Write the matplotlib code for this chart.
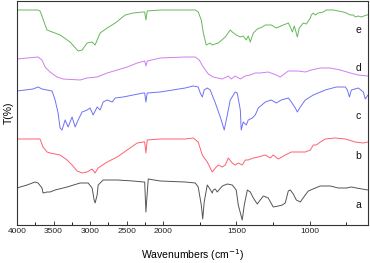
import numpy as np
import matplotlib
matplotlib.use("Agg")
import matplotlib.pyplot as plt

plt.rcParams['font.family'] = ['Liberation Sans', 'DejaVu Sans']

# --- data (wavenumber cm-1, offset transmittance in arbitrary units) ---
wn_e = [4000, 3712, 3685, 3658, 3616, 3589, 3411, 3274, 3164, 3110, 3041, 2973, 2932, 2904, 2863, 2767, 2657,
        2521, 2411, 2274, 2254, 2237, 2219, 2041, 1850, 1781, 1761, 1740, 1726, 1706, 1679, 1665, 1644, 1624,
        1576, 1542, 1528, 1501, 1473, 1453, 1432, 1419, 1405, 1384, 1357, 1323, 1302, 1261, 1227, 1179, 1145,
        1131, 1117, 1104, 1083, 1070, 1042, 1022, 994, 988, 974, 960, 940, 906, 885, 837, 803, 769, 748, 721,
        700, 687, 666, 645, 611, 600]
t_e = [215, 215, 214, 209, 200, 195, 190, 183, 174, 175, 182, 183, 180, 185, 192, 197, 202,
       210, 212, 213, 213, 205, 214, 215, 215, 215, 213, 205, 192, 180, 182, 180, 181, 182,
       188, 195, 193, 190, 188, 189, 185, 189, 183, 192, 196, 198, 200, 200, 197, 200, 202,
       198, 193, 199, 188, 197, 202, 201, 207, 210, 212, 210, 212, 213, 215, 215, 214, 213, 212, 210,
       210, 208, 209, 208, 210, 210]

wn_d = [4000, 3712, 3658, 3616, 3548, 3452, 3370, 3137, 3041, 2904, 2767, 2630, 2493, 2356, 2254, 2237, 2219,
        2041, 1850, 1781, 1754, 1726, 1692, 1658, 1596, 1569, 1555, 1535, 1508, 1473, 1439, 1405, 1371, 1337,
        1282, 1227, 1200, 1145, 1077, 1029, 988, 926, 858, 789, 721, 666, 600]
t_d = [166, 168, 165, 158, 153, 148, 146, 145, 147, 148, 152, 155, 158, 162, 164, 159, 164,
       167, 168, 168, 165, 158, 151, 148, 146, 148, 149, 146, 149, 146, 149, 150, 152, 152,
       153, 150, 148, 154, 154, 153, 155, 157, 157, 155, 152, 150, 149]

wn_c = [4000, 3781, 3712, 3658, 3521, 3479, 3438, 3411, 3384, 3342, 3301, 3247, 3205, 3164, 3110, 3041, 3000,
        2959, 2904, 2863, 2822, 2767, 2699, 2657, 2548, 2411, 2274, 2254, 2237, 2219, 2041, 1850, 1795, 1761,
        1747, 1733, 1720, 1699, 1679, 1644, 1610, 1583, 1562, 1542, 1508, 1494, 1473, 1467, 1453, 1432, 1419,
        1391, 1371, 1350, 1302, 1261, 1227, 1193, 1145, 1124, 1097, 1083, 1063, 1029, 974, 892, 817, 755,
        741, 727, 714, 666, 632, 618, 600]
t_c = [134, 136, 138, 136, 134, 125, 112, 97, 95, 105, 98, 108, 98, 105, 113, 115, 117,
       110, 118, 115, 123, 125, 123, 127, 128, 130, 132, 132, 123, 132, 133, 137, 139, 138,
       132, 128, 135, 137, 135, 122, 108, 95, 110, 125, 133, 132, 115, 95, 103, 100, 105,
       107, 110, 117, 123, 125, 122, 125, 127, 123, 117, 113, 118, 125, 130, 135, 138, 138,
       135, 128, 135, 137, 133, 126, 130]

wn_b = [4000, 3685, 3644, 3589, 3548, 3479, 3411, 3315, 3247, 3178, 3110, 3041, 2973, 2932, 2890, 2767, 2630,
        2493, 2356, 2274, 2254, 2237, 2219, 2041, 1850, 1795, 1761, 1733, 1699, 1665, 1644, 1624, 1596, 1576,
        1555, 1528, 1508, 1487, 1460, 1439, 1419, 1384, 1350, 1302, 1268, 1248, 1213, 1166, 1124, 1077, 1029,
        994, 974, 953, 926, 892, 824, 755, 687, 632, 600]
t_b = [86, 86, 78, 73, 72, 71, 70, 65, 60, 54, 52, 53, 56, 52, 57, 63, 68,
       75, 82, 83, 83, 72, 85, 86, 86, 87, 83, 70, 63, 53, 57, 60, 58, 60,
       67, 62, 60, 62, 60, 65, 65, 67, 68, 70, 67, 70, 66, 70, 73, 73, 73,
       75, 80, 80, 83, 86, 87, 86, 83, 82, 83]

wn_a = [4000, 3863, 3753, 3712, 3658, 3644, 3589, 3548, 3479, 3315, 3137, 3027, 2973, 2945, 2932, 2904, 2890,
        2822, 2630, 2411, 2274, 2254, 2237, 2226, 2205, 2041, 1850, 1781, 1761, 1740, 1730, 1720, 1699, 1685,
        1665, 1658, 1644, 1631, 1596, 1562, 1528, 1501, 1487, 1460, 1446, 1425, 1405, 1384, 1357, 1337, 1316,
        1282, 1248, 1213, 1186, 1166, 1145, 1131, 1111, 1090, 1063, 1029, 1008, 960, 926, 858, 803, 748, 714,
        680, 600]
t_a = [37, 40, 43, 42, 37, 32, 33, 33, 35, 38, 42, 42, 37, 25, 22, 30, 40,
       45, 45, 44, 43, 43, 13, 25, 46, 44, 43, 42, 38, 20, 6, 23, 40, 37,
       32, 35, 36, 33, 39, 41, 40, 35, 20, 5, 20, 35, 33, 27, 21, 25, 29,
       27, 18, 19, 20, 22, 34, 35, 31, 25, 23, 30, 34, 37, 39, 39, 37, 37, 38,
       37, 35]

labels = ['a', 'b', 'c', 'd', 'e']
x_ticks = [4000, 3500, 3000, 2500, 2000, 1500, 1000]
x_minor = [3750, 3250, 2750, 2250, 1750, 1250, 750]

series = [(wn_a, t_a, '#555555'), (wn_b, t_b, '#ff6070'), (wn_c, t_c, '#6f72f5'),
          (wn_d, t_d, '#cf7ef0'), (wn_e, t_e, '#66b85a')]
label_y = [20, 69, 109, 157, 195]


def fwd(x):
    x = np.asarray(x, dtype=float)
    return np.where(x <= 2000, x, 2000 + (x - 2000) / 2.0)


def inv(u):
    u = np.asarray(u, dtype=float)
    return np.where(u <= 2000, u, 2000 + (u - 2000) * 2.0)


fig = plt.figure(figsize=(3.70, 2.63), dpi=100)
ax = fig.add_axes([17 / 370, 1 - 225 / 263, 351 / 370, 224 / 263])
ax.set_xscale('function', functions=(fwd, inv))

for (wn, t, c) in series:
    ax.plot(wn, t, color=c, lw=0.7)

ax.set_xlim(4000, 600)
ax.set_ylim(0, 224)
ax.set_xticks(x_ticks)
ax.set_xticklabels([str(v) for v in x_ticks])
ax.set_xticks(x_minor, minor=True)
ax.set_yticks([])
ax.tick_params(axis='x', which='major', direction='in', length=3, width=0.6, labelsize=6, pad=2,
               colors='#222222')
ax.tick_params(axis='x', which='minor', direction='in', length=2, width=0.6)
for s in ax.spines.values():
    s.set_color('#333333')
    s.set_linewidth(0.8)

for lab, yv in zip(labels, label_y):
    ax.text(0.972, yv / 224, lab, transform=ax.transAxes, fontsize=7.5, ha='center', va='center',
            color='#111111')

ax.set_xlabel('Wavenumbers (cm$^{-1}$)', fontsize=7.5, labelpad=9)
ax.set_ylabel('T(%)', fontsize=7.5, labelpad=2)

fig.savefig('out.png', dpi=100)
